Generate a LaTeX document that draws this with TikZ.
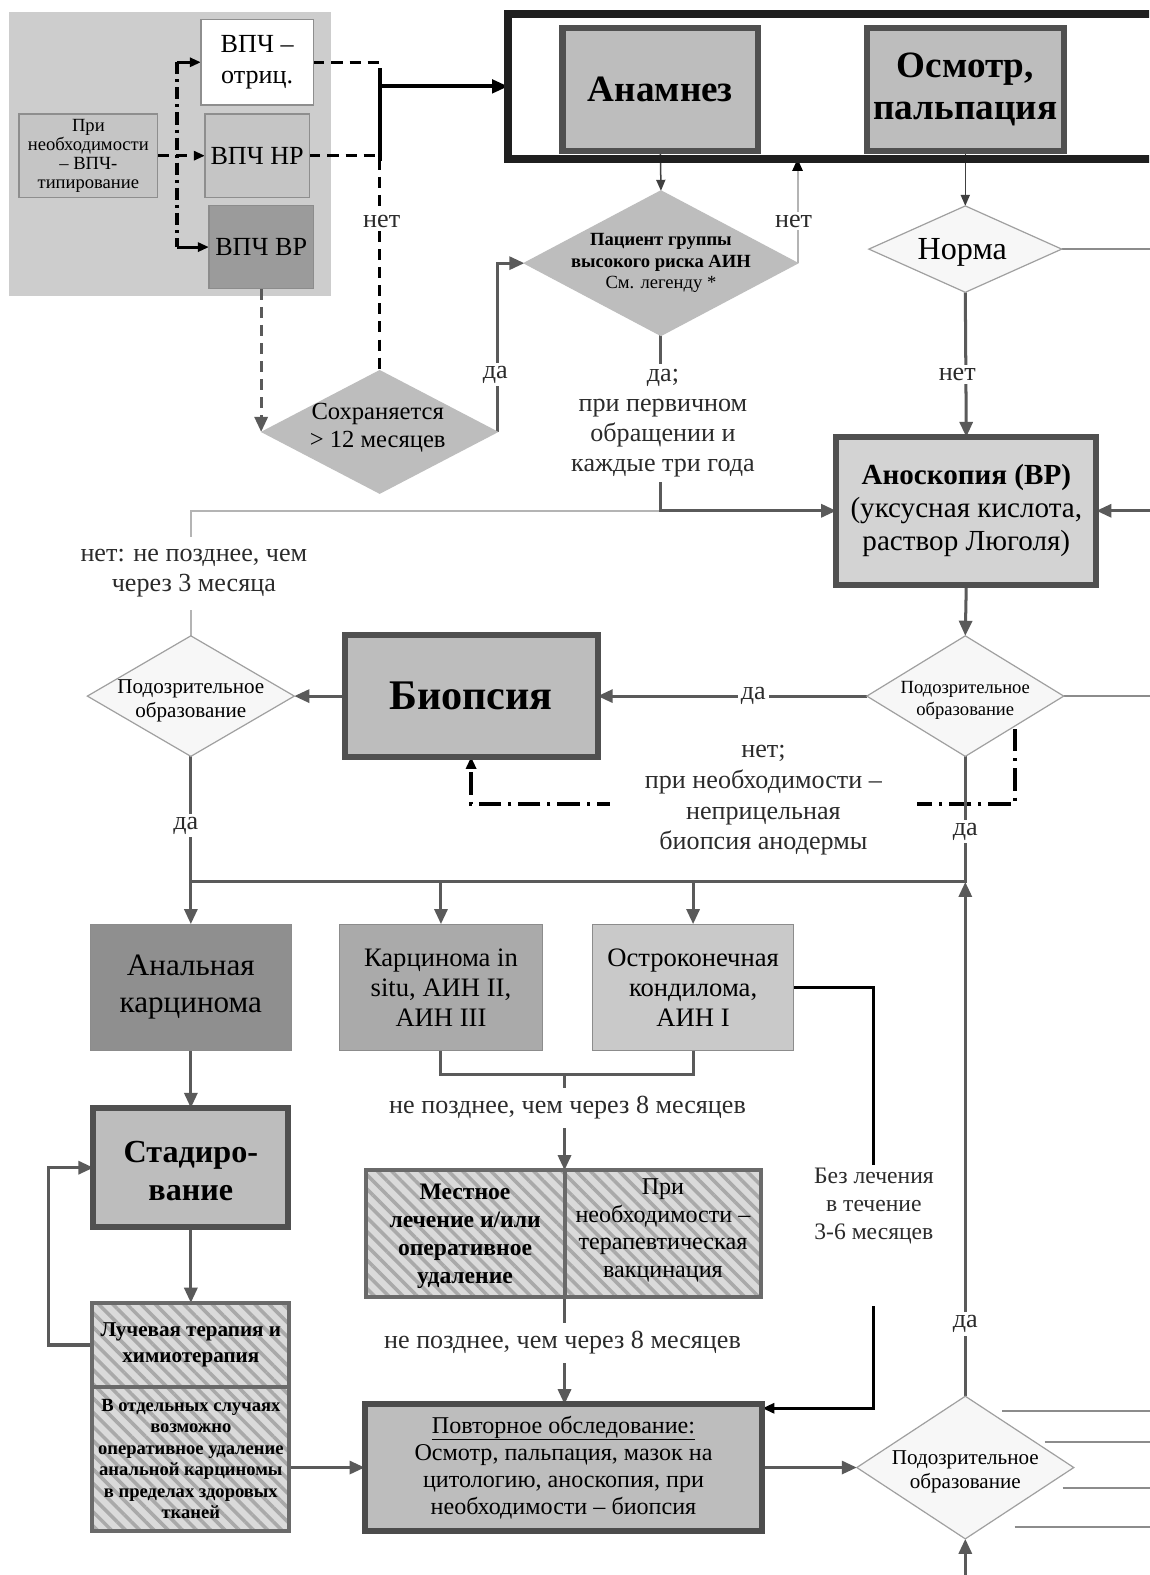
\documentclass[tikz,border=0pt]{standalone}
\usepackage{fontspec}
\setmainfont{Liberation Serif}
\usetikzlibrary{arrows.meta,shapes.geometric,patterns.meta}
\pgfdeclarelayer{bg}
\pgfsetlayers{bg,main}
\definecolor{cPanel}{HTML}{CDCDCD}
\definecolor{cPri}{HTML}{C5C5C5}
\definecolor{cPriB}{HTML}{8E8E8E}
\definecolor{cVR}{HTML}{9B9B9B}
\definecolor{cMain}{HTML}{BDBDBD}
\definecolor{cBord}{HTML}{505050}
\definecolor{cAnosk}{HTML}{D3D3D3}
\definecolor{cDF}{HTML}{F7F7F7}
\definecolor{cDB}{HTML}{A0A0A0}
\definecolor{cAnal}{HTML}{8F8F8F}
\definecolor{cCis}{HTML}{AAAAAA}
\definecolor{cKond}{HTML}{C9C9C9}
\definecolor{cHbg}{HTML}{DADADA}
\definecolor{cHln}{HTML}{A9A9A9}
\definecolor{cHB}{HTML}{6A6A6A}
\definecolor{cLine}{HTML}{5A5A5A}
\definecolor{cThin}{HTML}{8C8C8C}
\definecolor{cLight}{HTML}{B4B4B4}
\definecolor{cLbl}{HTML}{2B2B2B}
\definecolor{cFrame}{HTML}{1F1F1F}
\newcommand\myfs[2]{\fontsize{#1}{#2}\selectfont}
\begin{document}
\begin{tikzpicture}[x=1pt,y=-1pt,
  every node/.style={inner sep=0pt, outer sep=0pt},
  thickbox/.style={rectangle, draw=cBord, line width=6pt, fill=cMain, align=center},
  plainbox/.style={rectangle, draw=cThin, line width=1.2pt, align=center},
  hatchbox/.style={rectangle, draw=cHB, line width=4pt, preaction={fill=cHbg},
     pattern={Lines[angle=-45,distance=10pt,line width=3.5pt]}, pattern color=cHln, align=center},
  diam/.style={diamond, draw=cDB, line width=1.2pt, fill=cDF},
  dtext/.style={align=center},
  lbl/.style={fill=white, inner sep=3pt, align=center, text=cLbl},
  gline/.style={draw=cLine, line width=3pt},
  thinl/.style={draw=cThin, line width=2pt},
  lightl/.style={draw=cLight, line width=2.5pt},
  bk/.style={draw=black, line width=3pt},
  garr/.style={-{Triangle[length=15pt,width=13pt]}},
  barr/.style={-{Triangle[length=12pt,width=10pt]}},
  sarr/.style={-{Triangle[length=11pt,width=9pt]}},
  bdash/.style={draw=black, line width=3.5pt, dash pattern=on 11pt off 7pt},
  gdash/.style={draw=cLine, line width=3pt, dash pattern=on 11pt off 7pt},
  bdd/.style={draw=black, line width=3.5pt, dash pattern=on 12pt off 5pt on 3pt off 5pt},
  bdd2/.style={draw=black, line width=4pt, dash pattern=on 22pt off 7pt on 3pt off 7pt}
]
\useasboundingbox (0,0) rectangle (1144,1568);
\clip (0,0) rectangle (1144,1568);
\begin{pgfonlayer}{bg}
  \fill[white] (0,0) rectangle (1144,1568);
  \fill[cPanel] (9,12) rectangle (330,295);
\end{pgfonlayer}

% ---------- top-left panel
\node[plainbox, fill=cPri, draw=cPriB, minimum width=138pt, minimum height=83pt, font={\myfs{18.5}{19}}] (pri) at (88,155)
  {При\\необходимости\\– ВПЧ-\\типирование};
\node[plainbox, fill=white, draw=cPriB, line width=1.5pt, minimum width=112pt, minimum height=85pt, font={\myfs{26}{30}}] (neg) at (256,62)
  {ВПЧ –\\отриц.};
\node[plainbox, fill=cPri, draw=cPriB, minimum width=104pt, minimum height=83pt, font={\myfs{26}{30}}] (nr) at (256,155)
  {ВПЧ НР};
\node[plainbox, fill=cVR, draw=cThin, minimum width=104pt, minimum height=83pt, font={\myfs{26}{30}}] (vr) at (260,246)
  {ВПЧ ВР};

% ---------- big frame and top boxes
\node[draw=cFrame, line width=8pt, minimum width=664pt, minimum height=144pt] (frame) at (838,86) {};
\node[thickbox, minimum width=195pt, minimum height=122pt, font={\myfs{37}{40}\bfseries}] (anam) at (657.5,89)
  {Анамнез};
\node[thickbox, minimum width=196pt, minimum height=122pt, font={\myfs{37}{41}\bfseries}] (osm) at (961,89)
  {Осмотр,\\пальпация};

% ---------- diamonds upper
\node[diam, fill=cMain, draw=cMain, minimum width=272pt, minimum height=144pt] (pac) at (658,262) {};
\node[dtext, font={\myfs{18.5}{21.5}}] (pact) at (658,262)
  {\textbf{Пациент группы}\\\textbf{высокого риска АИН}\\См. легенду *};
\node[diam, fill=cMain, draw=cMain, minimum width=234pt, minimum height=122pt] (sokh) at (378,430) {};
\node[dtext, font={\myfs{24.5}{28}}] (sokht) at (376,426) {Сохраняется\\> 12 месяцев};
\node[diam, minimum width=192pt, minimum height=86pt] (norma) at (961,248) {};
\node[dtext, font={\myfs{32}{32}}] (normat) at (958,251) {Норма};

% ---------- anoscopy
\node[thickbox, fill=cAnosk, minimum width=259pt, minimum height=147pt, font={\myfs{29}{33}}] (anosk) at (962,508.5)
  {\textbf{Аноскопия (ВР)}\\(уксусная кислота,\\раствор Люголя)};

% ---------- biopsy row
\node[diam, minimum width=206pt, minimum height=120pt] (lsus) at (190,693) {};
\node[dtext, font={\myfs{21}{24}}] (lsust) at (190,698) {Подозрительное\\образование};
\node[thickbox, minimum width=252pt, minimum height=121pt, font={\myfs{42}{42}\bfseries}] (biop) at (469,693)
  {Биопсия};
\node[diam, minimum width=196pt, minimum height=120pt] (rsus) at (961,693) {};
\node[dtext, font={\myfs{18.5}{22}}] (rsust) at (961,697) {Подозрительное\\образование};

% ---------- diagnosis row
\node[plainbox, fill=cAnal, minimum width=200pt, minimum height=126pt, font={\myfs{31}{37}}] (anal) at (190,983)
  {Анальная\\карцинома};
\node[plainbox, fill=cCis, minimum width=202pt, minimum height=126pt, font={\myfs{26.5}{30}}] (cis) at (439,983)
  {Карцинома in\\situ, АИН II,\\АИН III};
\node[plainbox, fill=cKond, minimum width=200pt, minimum height=126pt, font={\myfs{26.5}{30}}] (kond) at (690,983)
  {Остроконечная\\кондилома,\\АИН I};

% ---------- lower left
\node[thickbox, minimum width=194pt, minimum height=119pt] (stad) at (190,1162.5) {};
\node[dtext, font={\myfs{32}{38}\bfseries}] (stadt) at (190,1166) {Стадиро-\\вание};
\node[hatchbox, minimum width=196pt, minimum height=84pt, font={\myfs{21}{26}\bfseries}] (luch) at (190,1339)
  {Лучевая терапия и\\химиотерапия};
\node[hatchbox, minimum width=196pt, minimum height=143pt, font={\myfs{18.5}{21.4}\bfseries}] (otd) at (190,1452.5)
  {В отдельных случаях\\возможно\\оперативное удаление\\анальной карциномы\\в пределах здоровых\\тканей};

% ---------- lower middle
\node[hatchbox, minimum width=198pt, minimum height=126pt] (mest) at (463,1228) {};
\node[dtext, font={\myfs{23.5}{27.7}\bfseries}] (mestt) at (463,1231) {Местное\\лечение и/или\\оперативное\\удаление};
\node[hatchbox, minimum width=196pt, minimum height=126pt] (vakc) at (660,1228) {};
\node[dtext, font={\myfs{24}{27.7}}] (vakct) at (660,1225) {При\\необходимости –\\терапевтическая\\вакцинация};
\node[thickbox, draw=cFrame!80!white, minimum width=396pt, minimum height=126pt, font={\myfs{24}{27}}] (povt) at (561,1461)
  {\underline{Повторное обследование:}\\Осмотр, пальпация, мазок на\\цитологию, аноскопия, при\\необходимости – биопсия};
\node[diam, minimum width=216pt, minimum height=142pt] (d3) at (961,1461) {};
\node[dtext, font={\myfs{21}{24}}] (d3t) at (961,1465) {Подозрительное\\образование};

% ---------- coordinates
\coordinate (jtop) at (378,62);
\coordinate (jnr) at (378,155);
\coordinate (jsolA) at (378,68);
\coordinate (jsolB) at (378,160);
\coordinate (jarr) at (378,86);
\coordinate (ddA) at (176,62);
\coordinate (ddB) at (176,246);
\coordinate (normaR) at (1160,248);
\coordinate (anoskR) at (1160,508.5);
\coordinate (rsusR) at (1160,693);
\coordinate (busR) at (961,878);
\coordinate (busL) at (190,878);
\coordinate (dcA) at (1010,726);
\coordinate (dcB) at (1010,800);
\coordinate (mj) at (562,1070);
\coordinate (kj) at (870,983);
\coordinate (kj2) at (870,1402);
\coordinate (loopA) at (48,1339);
\coordinate (loopB) at (48,1162.5);
\coordinate (botIn) at (961,1580);
\coordinate (r1a) at (998,1405);  \coordinate (r1b) at (1160,1405);
\coordinate (r2a) at (1040,1436); \coordinate (r2b) at (1160,1436);
\coordinate (r3a) at (1058,1481); \coordinate (r3b) at (1160,1481);
\coordinate (r4a) at (1010,1520); \coordinate (r4b) at (1160,1520);

% ---------- connectors
\begin{pgfonlayer}{bg}
  \draw[bdd] (ddA) -- (ddB);
  \draw[bk, sarr] (ddA) -- (neg.west);
  \draw[bk, sarr] (ddB) -- (vr.west);
  \draw[bdash, sarr] (pri.east) -- (nr.west);
  \draw[bdash] (neg.east) -- (jtop) -- (sokh.north);
  \draw[bdash] (nr.east) -- (jnr);
  \draw[bk, line width=4pt] (jsolA) -- (jsolB);
  \draw[bk, line width=4pt, -{Triangle[length=16pt,width=13pt]}] (jarr) -- (frame.west);
  \draw[gdash, garr] (vr.south) -- (vr.south |- sokh.west);
  \draw[gline, garr] (sokh.east) -- (sokh.east |- pac.west) -- (pac.west);
  \draw[draw=black!75, line width=1.5pt, sarr] (anam.south) -- (pac.north);
  \draw[draw=cLight, line width=2pt, -{Triangle[length=12pt,width=10pt,color=black]}] (pac.east) -- (pac.east |- frame.south);
  \draw[draw=black!75, line width=1.5pt, sarr] (osm.south) -- (norma.north);
  \draw[thinl] (norma.east) -- (normaR);
  \draw[gline, garr] (norma.south) -- (anosk.north);
  \draw[lightl] (lsus.north) -- (lsus.north |- anosk.west) -- (pac.south |- anosk.west);
  \draw[gline, garr] (pac.south) -- (pac.south |- anosk.west) -- (anosk.west);
  \draw[gline, garr] (anoskR) -- (anosk.east);
  \draw[gline, garr] (anosk.south) -- (rsus.north);
  \draw[gline, garr] (rsus.west) -- (biop.east);
  \draw[thinl] (rsus.east) -- (rsusR);
  \draw[gline, garr] (biop.west) -- (lsus.east);
  \draw[bdd2, barr] (dcA) -- (dcB) -- (biop.south |- dcB) -- (biop.south);
  \draw[gline] (rsus.south) -- (busR) -- (busL);
  \draw[gline, garr] (lsus.south) -- (anal.north);
  \draw[gline, garr] (cis.north |- busL) -- (cis.north);
  \draw[gline, garr] (kond.north |- busL) -- (kond.north);
  \draw[gline, garr] (d3.north) -- (busR);
  \draw[gline] (cis.south) -- (cis.south |- mj) -- (kond.south |- mj) -- (kond.south);
  \draw[gline, garr] (mj) -- (mj |- mest.north);
  \draw[gline, garr] (mest.south east) -- (mest.south east |- povt.north);
  \draw[bk, barr] (kond.east) -- (kj) -- (kj2) -- (povt.east |- kj2);
  \draw[gline, garr] (anal.south) -- (stad.north);
  \draw[gline, garr] (stad.south) -- (luch.north);
  \draw[gline, garr] (luch.west) -- (loopA) -- (loopB) -- (stad.west);
  \draw[gline, garr] (otd.east |- povt.west) -- (povt.west);
  \draw[gline, garr] (povt.east) -- (d3.west);
  \draw[gline, garr] (botIn) -- (d3.south);
  \draw[thinl] (r1a) -- (r1b);
  \draw[thinl] (r2a) -- (r2b);
  \draw[thinl] (r3a) -- (r3b);
  \draw[thinl] (r4a) -- (r4b);
\end{pgfonlayer}

% ---------- labels
\node[lbl, font={\myfs{26}{28}}] (l1) at (380,220) {нет};
\node[lbl, font={\myfs{26}{28}}] (l2) at (493,373) {да};
\node[lbl, font={\myfs{26}{28}}] (l3) at (790,220) {нет};
\node[lbl, inner sep=5pt, font={\myfs{26}{30}}] (l4) at (660,421) {да;\\при первичном\\обращении и\\каждые три года};
\node[lbl, font={\myfs{26}{28}}] (l5) at (953,373) {нет};
\node[lbl, minimum width=290pt, minimum height=72pt, font={\myfs{26}{30}}] (l6) at (193,571) {нет: не позднее, чем\\через 3 месяца};
\node[lbl, font={\myfs{26}{28}}] (l7) at (750,693) {да};
\node[lbl, minimum width=305pt, minimum height=118pt, font={\myfs{26}{30.5}}] (l8) at (760,797) {нет;\\при необходимости –\\неприцельная\\биопсия анодермы};
\node[lbl, font={\myfs{26}{28}}] (l9) at (185,822) {да};
\node[lbl, font={\myfs{26}{28}}] (l10) at (961,828) {да};
\node[lbl, minimum width=490pt, minimum height=40pt, font={\myfs{26}{28}}] (l11) at (565,1103) {не позднее, чем через 8 месяцев};
\node[lbl, minimum width=440pt, minimum height=40pt, font={\myfs{26}{28}}] (l12) at (560,1337) {не позднее, чем через 8 месяцев};
\node[fill=white, minimum width=145pt, minimum height=140pt] (l13bg) at (872,1230) {};
\node[dtext, text=cLbl, font={\myfs{23.5}{28}}] (l13) at (870,1201) {Без лечения\\в течение\\3-6 месяцев};
\node[lbl, font={\myfs{26}{28}}] (l14) at (961,1318) {да};
\end{tikzpicture}
\end{document}
